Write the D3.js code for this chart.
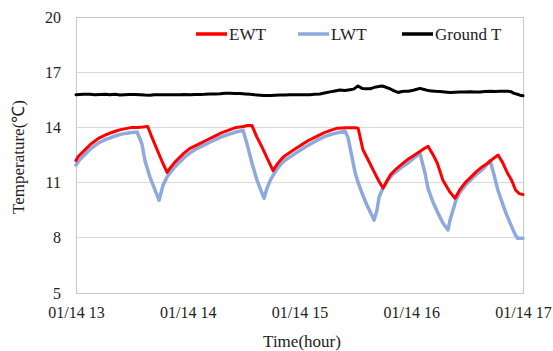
<!DOCTYPE html>
<html>
<head>
<meta charset="utf-8">
<script src="https://cdn.jsdelivr.net/npm/d3@7"></script>
<style>
  html, body { margin: 0; padding: 0; background: #ffffff; }
  svg { display: block; }
</style>
</head>
<body>
<svg id="chart" width="553" height="351"></svg>
<script>
// ---- data (time in minutes after 01/14 13:00) ----
const xTickValues = [0, 60, 120, 180, 240];
const xTickLabels = ["01/14 13", "01/14 14", "01/14 15", "01/14 16", "01/14 17"];
const yTickValues = [5, 8, 11, 14, 17, 20];
const seriesNames = ["EWT", "LWT", "Ground T"];

const ewtTime = [0,1,2,4,6,8,10,12,14,16,18,20,22,24,26,28,30,33,36,38.5,41,43.5,46,48.9,
  51,53,55,58,61,64,67,70,74,78,82,86,90,92,94.5,97,100,103,105.8,
  108,110,112,115,118,121,125,129,133,137,140,145,150,151.5,154,157,160,162.5,164.8,
  167,169,172,175,178,181,184,187,189,191.9,194,197,200.8,203.5,
  206,209,212,215,218,221,224,226.6,229,231.5,234,236,238,240];
const ewtValues = [12.2,12.4,12.5,12.7,12.9,13.1,13.25,13.4,13.5,13.6,13.68,13.75,13.82,13.88,13.92,13.96,14.0,14.0,14.02,14.05,13.4,12.8,12.2,11.55,
  11.85,12.1,12.3,12.6,12.85,13.0,13.15,13.3,13.5,13.7,13.85,14.0,14.05,14.1,14.1,13.5,12.9,12.25,11.65,
  12.0,12.25,12.45,12.65,12.85,13.05,13.3,13.5,13.7,13.85,13.95,13.98,13.98,13.95,12.8,12.2,11.6,11.1,10.7,
  11.1,11.45,11.75,12.0,12.25,12.45,12.65,12.85,12.97,12.48,12.05,11.13,10.48,10.15,
  10.6,11.0,11.3,11.6,11.85,12.05,12.3,12.5,12.1,11.55,11.1,10.6,10.4,10.35];

const lwtTime = [0,2,4,6,8,10,12,14,16,18,20,22,24,26,28,30,32.8,35.4,37,39.7,42.4,44.6,46.7,48.9,
  51,53,55,58,61,64,67,70,74,78,82,86,89.7,92.3,94.5,97.2,99.9,101,102.5,104.2,105.8,
  108,110,112,115,118,121,125,129,133,137,141,144.4,146,148.2,149.8,151.4,153.6,156.3,158.5,160,161.6,162.7,164.3,165.9,
  168,170,172,175,178,181,184.7,187.4,189,191.7,194.4,197,199.7,200.8,202.4,204,
  206,209,212,215,218,220,222.3,224.5,226.5,228.7,231,233.5,235.7,237,240];
const lwtValues = [11.95,12.25,12.45,12.65,12.85,13.0,13.15,13.25,13.35,13.42,13.5,13.56,13.62,13.66,13.7,13.72,13.75,13.1,12.2,11.3,10.6,10.04,10.85,11.3,
  11.6,11.85,12.05,12.35,12.6,12.8,12.95,13.1,13.3,13.48,13.62,13.75,13.84,12.92,12.05,11.13,10.42,10.15,10.69,11.1,11.4,
  11.75,12.0,12.2,12.4,12.6,12.8,13.05,13.28,13.48,13.62,13.72,13.8,13.46,12.38,11.56,11.02,10.42,9.75,9.3,8.96,9.5,10.2,10.59,10.86,
  11.2,11.45,11.6,11.85,12.05,12.3,12.59,11.51,10.69,9.93,9.34,8.8,8.42,8.96,9.5,10.04,
  10.45,10.85,11.15,11.45,11.7,11.9,12.2,11.4,10.6,9.95,9.3,8.7,8.2,7.98,7.98];

const groundTime = [0,4,7.5,10,13,16,18,21,23.6,26,29,32,34.4,37,39.7,42,45,48,50.5,53,55.8,58,61.2,64,66.6,69,72,75,77.3,80,82.7,85,88,91,93.4,96,98.8,101,104.2,107,109.5,112,114.9,118,120.3,123,125.6,128,131,134,136.4,139,141.7,144.4,147.1,149,151.4,153.6,155.5,157.8,159.5,161,162.5,164.3,166.5,168.6,170.5,172.9,175,176.6,178.5,180.4,182.5,184.7,187.4,189,191,193,195.4,198,200.8,203.5,206.2,209,211.5,214,216.9,219.5,222.3,225,227.6,230,231.9,233.5,235.2,237,238.4,240];
const groundValues = [15.78,15.8,15.8,15.77,15.79,15.8,15.78,15.8,15.76,15.78,15.79,15.79,15.78,15.76,15.75,15.78,15.78,15.77,15.78,15.78,15.78,15.79,15.78,15.79,15.79,15.8,15.82,15.82,15.83,15.85,15.86,15.84,15.84,15.82,15.8,15.77,15.75,15.73,15.73,15.75,15.76,15.76,15.77,15.77,15.77,15.78,15.78,15.8,15.82,15.88,15.93,15.98,16.03,16.0,16.05,16.08,16.25,16.12,16.1,16.1,16.15,16.2,16.22,16.25,16.18,16.1,16.0,15.9,15.95,15.97,15.97,16.0,16.06,16.12,16.05,16.0,15.98,15.96,15.95,15.93,15.9,15.91,15.92,15.93,15.94,15.92,15.93,15.95,15.96,15.95,15.96,15.97,15.96,15.94,15.85,15.8,15.75,15.72];

// ---- layout ----
const FONT = "Liberation Serif";
const svg = d3.select("#chart");
const plot = { left: 76, right: 523, top: 17, bottom: 293 };

const x = d3.scaleLinear().domain([0, 240]).range([plot.left, plot.right]);
const y = d3.scaleLinear().domain([5, 20]).range([plot.bottom, plot.top]);

// gridlines
svg.append("g")
  .selectAll("line")
  .data(yTickValues)
  .join("line")
  .attr("x1", plot.left).attr("x2", plot.right)
  .attr("y1", d => y(d)).attr("y2", d => y(d))
  .attr("stroke", "#d9d9d9").attr("stroke-width", 1)
  .attr("shape-rendering", "crispEdges");

// plot border
svg.append("rect")
  .attr("x", plot.left).attr("y", plot.top)
  .attr("width", plot.right - plot.left).attr("height", plot.bottom - plot.top)
  .attr("fill", "none").attr("stroke", "#c8c8c8").attr("stroke-width", 1)
  .attr("shape-rendering", "crispEdges");

// y axis labels
const yAxis = d3.axisLeft(y).tickValues(yTickValues).tickSize(0).tickPadding(15).tickFormat(d3.format("d"));
const gy = svg.append("g").attr("transform", `translate(${plot.left},0)`).call(yAxis)
  .attr("font-family", FONT).attr("font-size", 16);
gy.select(".domain").remove();
gy.selectAll("text").attr("font-family", FONT).attr("font-size", 16).attr("fill", "#222");

// x axis labels
const xAxis = d3.axisBottom(x).tickValues(xTickValues).tickSize(0).tickPadding(14)
  .tickFormat((d, i) => xTickLabels[i]);
const gx = svg.append("g").attr("transform", `translate(0,${plot.bottom})`).call(xAxis)
  .attr("font-family", FONT).attr("font-size", 16);
gx.select(".domain").remove();
gx.selectAll("text").attr("font-family", FONT).attr("font-size", 16).attr("fill", "#222");

// axis titles
svg.append("text")
  .attr("x", 302).attr("y", 347)
  .attr("text-anchor", "middle")
  .attr("font-family", FONT).attr("font-size", 17).attr("fill", "#222")
  .text("Time(hour)");
svg.append("text")
  .attr("transform", `translate(24,157) rotate(-90)`)
  .attr("text-anchor", "middle")
  .attr("font-family", FONT).attr("font-size", 17).attr("fill", "#222")
  .text("Temperature(℃)");

// lines
const colors = ["#ff0000", "#8eaadc", "#000000"];
const widths = [3, 3.5, 3];
const seriesData = [
  ewtTime.map((t, i) => [t, ewtValues[i]]),
  lwtTime.map((t, i) => [t, lwtValues[i]]),
  groundTime.map((t, i) => [t, groundValues[i]])
];
const line = d3.line().x(d => x(d[0])).y(d => y(d[1])).curve(d3.curveLinear);

[2, 1, 0].forEach(k => {
  svg.append("path")
    .datum(seriesData[k])
    .attr("d", line)
    .attr("fill", "none")
    .attr("stroke", colors[k])
    .attr("stroke-width", widths[k])
    .attr("stroke-linejoin", "round")
    .attr("stroke-linecap", "round");
});

// legend
const legendX = [196, 298, 402];
const legend = svg.append("g");
seriesNames.forEach((name, i) => {
  legend.append("line")
    .attr("x1", legendX[i]).attr("x2", legendX[i] + 31)
    .attr("y1", 34).attr("y2", 34)
    .attr("stroke", colors[i]).attr("stroke-width", 3.5);
  legend.append("text")
    .attr("x", legendX[i] + 33).attr("y", 39.5)
    .attr("font-family", FONT).attr("font-size", 17).attr("fill", "#222")
    .text(name);
});
</script>
</body>
</html>
